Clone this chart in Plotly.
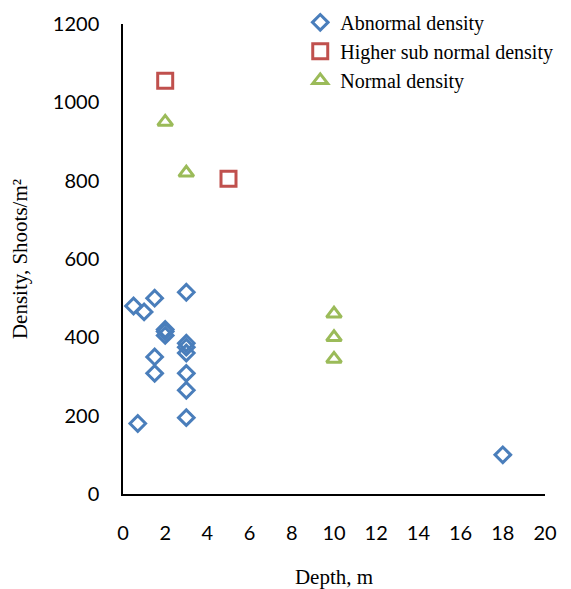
import plotly.graph_objects as go

# Data
abn_depth = [0.5, 1, 1.5, 3, 2, 2, 2, 3, 3, 3, 1.5, 1.5, 3, 3, 0.7, 3, 18]
abn_density = [480, 465, 500, 515, 420, 415, 405, 385, 375, 360, 350, 308, 308, 265, 180, 195, 100]

high_depth = [2, 5]
high_density = [1055, 805]

norm_depth = [2, 3, 10, 10, 10]
norm_density = [950, 820, 460, 400, 345]

x_ticks = [0, 2, 4, 6, 8, 10, 12, 14, 16, 18, 20]
y_ticks = [0, 200, 400, 600, 800, 1000, 1200]

BLUE = "#4A7EBB"
RED = "#C0504D"
GREEN = "#9BBB59"

fig = go.Figure()
fig.add_trace(go.Scatter(
    x=abn_depth, y=abn_density, mode="markers", name="Abnormal density",
    marker=dict(symbol="diamond-open", size=12, color=BLUE, line=dict(width=3, color=BLUE)),
))
fig.add_trace(go.Scatter(
    x=high_depth, y=high_density, mode="markers", name="Higher sub normal density",
    marker=dict(symbol="square-open", size=15, color=RED, line=dict(width=3, color=RED)),
))
fig.add_trace(go.Scatter(
    x=norm_depth, y=norm_density, mode="markers", name="Normal density",
    marker=dict(symbol="triangle-up-open", size=13, color=GREEN, line=dict(width=3, color=GREEN)),
))

fig.update_layout(
    width=563, height=581,
    margin=dict(l=115, r=26, t=16, b=95, autoexpand=False),
    plot_bgcolor="white", paper_bgcolor="white",
    showlegend=True,
    legend=dict(
        x=0.42, y=1.045, xanchor="left", yanchor="top",
        font=dict(family="Liberation Serif", size=20, color="black"),
        bgcolor="rgba(0,0,0,0)", tracegroupgap=0, itemwidth=30,
    ),
    xaxis=dict(
        range=[0, 20], tickvals=x_ticks, ticktext=[str(v) for v in x_ticks],
        showgrid=False, zeroline=False, showline=True, linecolor="black", linewidth=1.5,
        ticks="", ticklabelstandoff=20,
        tickfont=dict(family="Lato", size=20, color="black"),
        title=dict(text="Depth, m", font=dict(family="Liberation Serif", size=21, color="black"), standoff=35),
        automargin=False,
    ),
    yaxis=dict(
        range=[0, 1200], tickvals=y_ticks, ticktext=[str(v) for v in y_ticks],
        showgrid=False, zeroline=False, showline=True, linecolor="black", linewidth=1.5,
        ticks="", ticklabelstandoff=18,
        tickfont=dict(family="Lato", size=20, color="black"),
        title=dict(text="Density, Shoots/m²", font=dict(family="Liberation Serif", size=21, color="black"), standoff=22),
        automargin=False,
    ),
)

fig.write_html("out.html")
